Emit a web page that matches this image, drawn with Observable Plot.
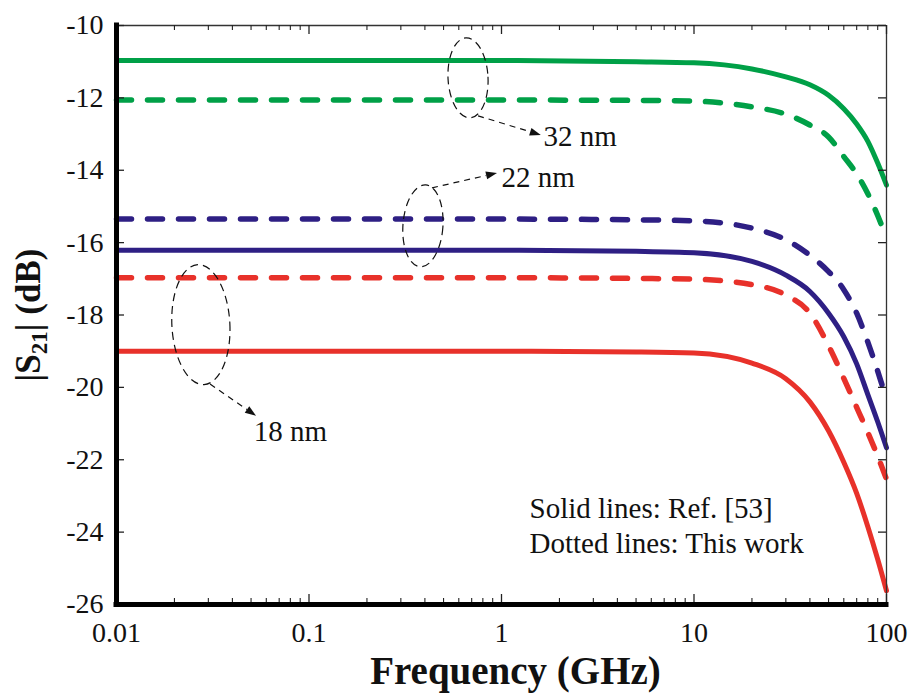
<!DOCTYPE html>
<html>
<head>
<meta charset="utf-8">
<script src="https://cdn.jsdelivr.net/npm/d3@7"></script>
<script src="https://cdn.jsdelivr.net/npm/@observablehq/plot@0.6"></script>
<style>html, body { margin: 0; background: #fff; }</style>
</head>
<body>
<div id="chart"></div>
<script>
// ---------------- data ----------------
const xDomain = [0.01, 100];
const yDomain = [-26, -10];
const xTicks = [0.01, 0.1, 1, 10, 100];
const xTickLabels = ["0.01", "0.1", "1", "10", "100"];
const yTicks = [-10, -12, -14, -16, -18, -20, -22, -24, -26];
const yTickLabels = ["-10", "-12", "-14", "-16", "-18", "-20", "-22", "-24", "-26"];

const nodes = ["32 nm", "22 nm", "18 nm"];
const freqGHz = [0.01, 1, 5, 10, 20, 30, 40, 50, 60, 70, 80, 90, 100];
// |S21| (dB), solid lines = Ref. [53], dotted lines = this work
const ref32  = [-10.97, -10.97, -11.00, -11.03, -11.20, -11.42, -11.64, -11.93, -12.30, -12.72, -13.20, -13.80, -14.41];
const work32 = [-12.06, -12.06, -12.07, -12.09, -12.25, -12.45, -12.75, -13.08, -13.62, -14.10, -14.65, -15.25, -15.88];
const ref22  = [-16.21, -16.21, -16.24, -16.28, -16.52, -16.90, -17.35, -17.95, -18.60, -19.35, -20.20, -20.95, -21.67];
const work22 = [-15.35, -15.35, -15.37, -15.40, -15.60, -15.92, -16.35, -16.80, -17.30, -17.95, -18.75, -19.55, -20.34];
const ref18  = [-19.00, -19.00, -19.02, -19.05, -19.33, -19.76, -20.40, -21.20, -22.07, -22.93, -23.85, -24.75, -25.62];
const work18 = [-16.97, -16.97, -16.99, -17.01, -17.16, -17.45, -17.95, -18.85, -19.75, -20.55, -21.25, -21.90, -22.54];

// annotation anchors (data coordinates)
const groupLabels = ["32 nm", "22 nm", "18 nm"];
const ellipseFreq = [0.674, 0.393, 0.0276];
const ellipseDb   = [-11.46, -15.55, -18.28];
const arrowFromFreq = [0.76, 0.438, 0.0308];
const arrowFromDb   = [-12.51, -14.50, -19.92];
const arrowToFreq   = [1.61, 0.953, 0.0534];
const arrowToDb     = [-13.04, -14.09, -20.80];
const labelFreq = [1.653, 1.0, 0.0517];
const labelDb   = [-13.07, -14.21, -21.22];
const noteLines = ["Solid lines: Ref. [53]", "Dotted lines: This work"];
const noteFreq = 1.398;
const noteDb = [-23.35, -24.32];

// ---------------- styles / layout ----------------
const W = 914, H = 696;
const M = {left: 116, right: 28, top: 25, bottom: 92};
const innerW = W - M.left - M.right;
const innerH = H - M.top - M.bottom;
const colors = ["#00a047", "#2e1f84", "#e8312a"];
const ellipseSize = [{rx: 20, ry: 40, tilt: -3}, {rx: 20, ry: 41, tilt: 4}, {rx: 29, ry: 60, tilt: -3}];
const FONT = "Liberation Serif";

// ---------------- table ----------------
const curves = [
  {node: "32 nm", kind: "ref", values: ref32},
  {node: "32 nm", kind: "work", values: work32},
  {node: "22 nm", kind: "ref", values: ref22},
  {node: "22 nm", kind: "work", values: work22},
  {node: "18 nm", kind: "ref", values: ref18},
  {node: "18 nm", kind: "work", values: work18}
];
const rows = curves.flatMap(c => freqGHz.map((f, i) => ({f, db: c.values[i], node: c.node, kind: c.kind, id: c.node + c.kind})));

const minorTicks = d3.scaleLog().domain(xDomain).ticks().filter(t => !xTicks.some(m => Math.abs(m - t) / t < 1e-9));

function annotationLayer(index, scales) {
  const X = scales.x, Y = scales.y;
  const g = d3.create("svg:g").attr("fill", "none").attr("stroke", "#111").attr("stroke-width", 1.2);
  groupLabels.forEach((lab, i) => {
    const cx = X(ellipseFreq[i]), cy = Y(ellipseDb[i]);
    const s = ellipseSize[i];
    g.append("ellipse")
      .attr("cx", cx).attr("cy", cy).attr("rx", s.rx).attr("ry", s.ry)
      .attr("stroke-dasharray", "8,5")
      .attr("transform", `rotate(${s.tilt} ${cx} ${cy})`);
    const x1 = X(arrowFromFreq[i]), y1 = Y(arrowFromDb[i]);
    const x2 = X(arrowToFreq[i]), y2 = Y(arrowToDb[i]);
    const ang = Math.atan2(y2 - y1, x2 - x1);
    const hl = 11, hw = 4;
    const bx = x2 - hl * Math.cos(ang), by = y2 - hl * Math.sin(ang);
    g.append("line").attr("x1", x1).attr("y1", y1).attr("x2", bx).attr("y2", by)
      .attr("stroke-dasharray", "6,5");
    const px = -Math.sin(ang) * hw, py = Math.cos(ang) * hw;
    g.append("path")
      .attr("d", `M${x2},${y2}L${bx + px},${by + py}L${bx - px},${by - py}Z`)
      .attr("fill", "#111").attr("stroke", "none");
  });
  return g.node();
}

const chart = Plot.plot({
  width: W,
  height: H,
  marginLeft: M.left,
  marginRight: M.right,
  marginTop: M.top,
  marginBottom: M.bottom,
  x: {type: "log", domain: xDomain, axis: null},
  y: {domain: yDomain, axis: null},
  color: {domain: nodes, range: colors},
  marks: [
    // curves
    Plot.line(rows.filter(d => d.kind === "work"), {x: "f", y: "db", z: "id", stroke: "node", strokeWidth: 5.5, strokeDasharray: "15,16", curve: "monotone-x"}),
    Plot.line(rows.filter(d => d.kind === "ref"), {x: "f", y: "db", z: "id", stroke: "node", strokeWidth: 5, curve: "monotone-x"}),
    // frame (thin top/right)
    Plot.ruleX([xDomain[1]], {stroke: "#333", strokeWidth: 1.3}),
    Plot.ruleY([yDomain[1]], {stroke: "#333", strokeWidth: 1.3}),
    // inward ticks
    Plot.tickY(yTicks, {insetRight: innerW - 8, stroke: "#222", strokeWidth: 1.3}),
    Plot.tickY(yTicks, {insetLeft: innerW - 8, stroke: "#222", strokeWidth: 1.3}),
    Plot.tickX(xTicks, {insetTop: innerH - 10, stroke: "#222", strokeWidth: 1.3}),
    Plot.tickX(xTicks, {insetBottom: innerH - 9, stroke: "#222", strokeWidth: 1.3}),
    Plot.tickX(minorTicks, {insetTop: innerH - 6, stroke: "#222", strokeWidth: 1.1}),
    Plot.tickX(minorTicks, {insetBottom: innerH - 5, stroke: "#222", strokeWidth: 1.1}),
    // thick left / bottom axes
    Plot.ruleX([xDomain[0]], {stroke: "#000", strokeWidth: 5, strokeLinecap: "square"}),
    Plot.ruleY([yDomain[0]], {stroke: "#000", strokeWidth: 5, strokeLinecap: "square"}),
    // tick labels
    Plot.text(yTicks, {frameAnchor: "left", y: d => d, text: (d, i) => yTickLabels[i], textAnchor: "end", dx: -13, fontSize: 28, fontFamily: FONT, fill: "#111"}),
    Plot.text(xTicks, {frameAnchor: "bottom", x: d => d, text: (d, i) => xTickLabels[i], lineAnchor: "top", dy: 18, fontSize: 28, fontFamily: FONT, fill: "#111"}),
    // axis titles
    Plot.text(["Frequency (GHz)"], {text: d => d, frameAnchor: "bottom", textAnchor: "middle", lineAnchor: "middle", dy: 67, dx: 14, fontSize: 39, fontWeight: "bold", fontFamily: FONT, fill: "#111"}),
    Plot.text(["|S21| (dB)"], {text: d => d, frameAnchor: "left", textAnchor: "middle", lineAnchor: "middle", rotate: -90, dx: -88, fontSize: 35, fontWeight: "bold", fontFamily: FONT, fill: "#111"}),
    // annotations
    annotationLayer,
    Plot.text(groupLabels, {x: (d, i) => labelFreq[i], y: (d, i) => labelDb[i], text: d => d, textAnchor: "start", lineAnchor: "middle", fontSize: 29, fontFamily: FONT, fill: "#111"}),
    Plot.text(noteLines, {x: () => noteFreq, y: (d, i) => noteDb[i], text: d => d, textAnchor: "start", lineAnchor: "middle", fontSize: 29, fontFamily: FONT, fill: "#111"})
  ]
});

chart.setAttribute("font-family", FONT);
document.getElementById("chart").appendChild(chart);

// serif font on every text element
chart.querySelectorAll("text").forEach(t => { t.style.fontFamily = FONT; t.setAttribute("font-family", FONT); });

// subscript for S21
chart.querySelectorAll("text").forEach(t => {
  if (t.textContent === "|S21| (dB)") {
    t.textContent = "";
    const ns = "http://www.w3.org/2000/svg";
    const a = document.createElementNS(ns, "tspan"); a.textContent = "|S";
    const b = document.createElementNS(ns, "tspan"); b.textContent = "21";
    b.setAttribute("font-size", "23"); b.setAttribute("dy", "7");
    const c = document.createElementNS(ns, "tspan"); c.textContent = "| (dB)";
    c.setAttribute("dy", "-7");
    t.append(a, b, c);
  }
});
</script>
</body>
</html>
